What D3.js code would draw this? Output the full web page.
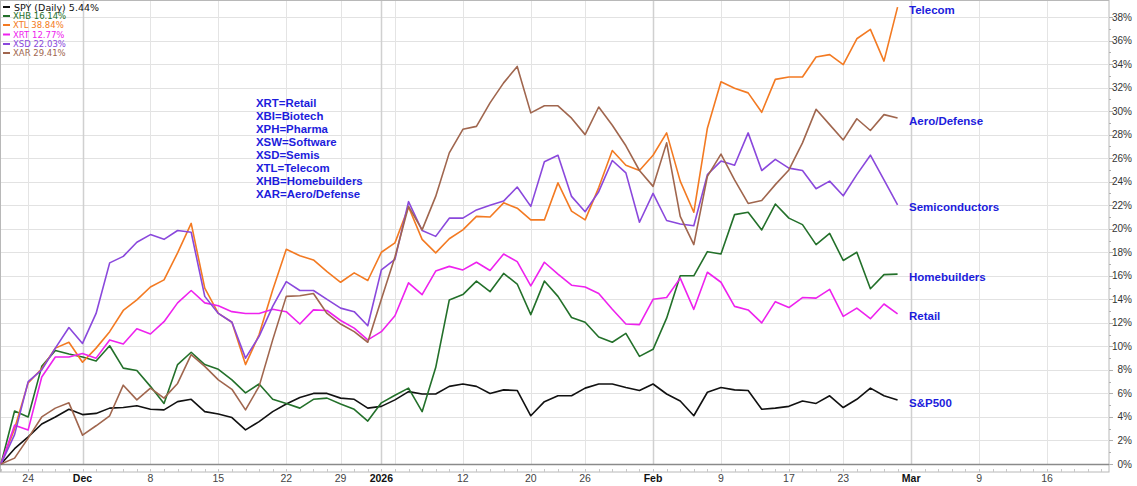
<!DOCTYPE html>
<html>
<head>
<meta charset="utf-8">
<script src="https://cdn.jsdelivr.net/npm/d3@7"></script>
<style>
  body { margin: 0; background: #fff; }
  svg { display: block; }
</style>
</head>
<body>
<svg id="perf_chart"></svg>
<script>
// percent change since 2025-11-20, one value per trading day
const spy = [0, 1.3, 2.3, 3.4, 4.0, 4.65, 4.2, 4.3, 4.75, 4.8, 4.95, 4.65, 4.6, 5.3, 5.5, 4.45, 4.25, 3.95, 2.9, 3.6,
  4.45, 5.1, 5.65, 6.0, 6.0, 5.6, 5.5, 4.75, 4.9, 5.45, 6.15, 5.95, 5.95, 6.6, 6.8, 6.6, 6.0, 6.3, 6.25, 4.1,
  5.3, 5.8, 5.8, 6.45, 6.8, 6.8, 6.5, 6.25, 6.8, 5.95, 5.35, 4.1, 6.1, 6.5, 6.3, 6.25, 4.65, 4.75, 4.9, 5.35,
  5.15, 5.8, 4.8, 5.5, 6.45, 5.8, 5.44]
const xhb = [0, 4.5, 4.0, 8.3, 9.65, 9.35, 9.1, 8.75, 10.05, 8.15, 7.95, 6.6, 5.15, 8.45, 9.5, 8.45, 8.05, 7.15, 6.05, 6.8,
  5.5, 5.15, 4.75, 5.5, 5.6, 5.1, 4.65, 3.65, 5.2, 5.85, 6.45, 4.45, 8.2, 13.95, 14.4, 15.55, 14.65, 16.2, 15.3, 12.7,
  15.55, 14.25, 12.45, 12.05, 10.8, 10.35, 11.1, 9.15, 9.75, 12.4, 16.0, 16.0, 18.05, 17.85, 21.2, 21.4, 19.9, 22.1, 20.9, 20.35,
  18.65, 19.6, 17.3, 18.0, 14.9, 16.1, 16.14]
const xtl = [0, 3.0, 6.9, 8.1, 9.85, 10.35, 8.65, 9.85, 11.25, 13.05, 13.95, 15.05, 15.65, 17.95, 20.45, 14.95, 12.8, 12.05, 8.45, 11.0,
  14.8, 18.25, 17.7, 17.35, 16.35, 15.45, 16.25, 15.6, 18.0, 18.8, 21.85, 19.1, 17.95, 19.15, 19.9, 21.05, 21.0, 22.2, 21.75, 20.75,
  20.75, 23.9, 21.5, 20.75, 23.5, 26.65, 25.4, 24.95, 26.25, 28.15, 24.05, 21.4, 28.55, 32.5, 31.95, 31.55, 29.9, 32.7, 32.9, 32.9,
  34.6, 34.8, 33.95, 36.15, 36.95, 34.25, 38.84]
const xrt = [0, 3.3, 2.9, 7.4, 9.1, 9.1, 9.4, 9.0, 10.55, 10.2, 11.5, 11.05, 12.1, 13.7, 14.75, 13.7, 13.45, 12.95, 12.8, 12.8,
  13.15, 12.95, 11.9, 13.1, 13.05, 12.2, 11.55, 10.55, 11.25, 12.6, 15.4, 14.4, 16.4, 16.8, 16.5, 17.15, 16.45, 17.85, 17.2, 15.15,
  17.15, 16.15, 15.2, 15.05, 14.5, 13.15, 11.9, 11.85, 14.0, 14.15, 15.8, 13.15, 16.3, 15.45, 13.4, 13.1, 12.0, 13.8, 13.3, 14.15,
  14.1, 14.85, 12.55, 13.25, 12.35, 13.6, 12.77]
const xsd = [0, 2.5, 7.0, 8.0, 9.85, 11.6, 10.25, 12.8, 17.1, 17.65, 18.85, 19.5, 19.1, 19.85, 19.7, 14.25, 12.8, 12.05, 9.0, 10.85,
  13.4, 15.5, 14.75, 14.75, 14.0, 13.25, 12.95, 11.75, 16.5, 17.4, 22.3, 19.85, 19.35, 20.9, 20.9, 21.6, 22.0, 22.35, 23.55, 21.9,
  25.7, 26.25, 22.75, 21.45, 23.15, 25.8, 24.75, 20.55, 23.0, 20.7, 20.4, 20.25, 24.6, 25.75, 25.4, 28.15, 24.95, 25.9, 25.15, 24.95,
  23.4, 24.05, 22.8, 24.6, 26.25, 24.15, 22.03]
const xar = [0, 0.5, 2.2, 4.0, 4.75, 5.2, 2.45, 3.25, 4.1, 6.7, 5.45, 6.45, 5.6, 6.85, 9.3, 8.3, 7.15, 6.35, 4.6, 6.6,
  10.55, 14.25, 14.3, 14.5, 12.8, 11.9, 11.25, 10.35, 14.0, 17.6, 21.9, 19.9, 22.75, 26.45, 28.45, 28.7, 30.7, 32.4, 33.8, 29.85,
  30.45, 30.45, 29.4, 28.0, 30.35, 28.8, 27.05, 24.95, 23.6, 27.3, 21.05, 18.65, 24.45, 26.35, 24.15, 22.15, 22.4, 23.75, 25.0, 27.3,
  30.15, 28.85, 27.55, 29.35, 28.35, 29.7, 29.41]

const tickers = ["SPY (Daily)", "XHB", "XTL", "XRT", "XSD", "XAR"]
const seriesColors = ["#111111", "#23702a", "#f37a22", "#ee22ee", "#8a48dc", "#a0664e"]
const sectorNames = ["S&P500", "Homebuilders", "Telecom", "Retail", "Semiconductors", "Aero/Defense"]
const allSeries = [spy, xhb, xtl, xrt, xsd, xar]

const keyLines = ["XRT=Retail", "XBI=Biotech", "XPH=Pharma", "XSW=Software", "XSD=Semis",
  "XTL=Telecom", "XHB=Homebuilders", "XAR=Aero/Defense"]

// calendar
const startDay = "2025-11-20", endDay = "2026-03-20"
const holidays = ["2025-11-27", "2025-12-25", "2026-01-01", "2026-01-19", "2026-02-16"]
const tickDates = ["2025-11-24", "2025-12-01", "2025-12-08", "2025-12-15", "2025-12-22", "2025-12-29", "2026-01-02",
  "2026-01-12", "2026-01-20", "2026-01-26", "2026-02-02", "2026-02-09", "2026-02-17", "2026-02-23",
  "2026-03-02", "2026-03-09", "2026-03-16"]
const tickLabels = ["24", "Dec", "8", "15", "22", "29", "2026", "12", "20", "26", "Feb", "9", "17", "23", "Mar", "9", "16"]
const extraGridDates = ["2026-01-05"]
const monthDates = ["2025-12-01", "2026-01-02", "2026-02-02", "2026-03-02"]
const pctTicks = d3.range(0, 39, 2)

const fmt = d3.utcFormat("%Y-%m-%d")
const parse = d3.utcParse("%Y-%m-%d")
const tradingDays = d3.utcDay.range(parse(startDay), d3.utcDay.offset(parse(endDay), 1))
  .filter(d => d.getUTCDay() !== 0 && d.getUTCDay() !== 6 && !holidays.includes(fmt(d)))
  .map(fmt)
const dayIndex = d => tradingDays.indexOf(d)

const W = 1137, H = 486
const plot = {left: 0, right: 1109, top: 1, bottom: 472, zero: 464}

const svg = d3.select("#perf_chart").attr("width", W).attr("height", H)

const x = d3.scaleLinear()
  .domain([0, dayIndex("2026-03-16")])
  .range([1, 1047])
const y = d3.scaleLinear()
  .domain([0, 38])
  .range([plot.zero, 17])

// frame
svg.append("rect")
  .attr("x", plot.left + 0.5).attr("y", plot.top - 0.5)
  .attr("width", plot.right - plot.left - 0.5).attr("height", plot.bottom - plot.top + 0.5)
  .attr("fill", "none").attr("stroke", "#b8b8b8")

// horizontal grid
svg.append("g").selectAll("line")
  .data(pctTicks.filter(d => d > 0))
  .enter().append("line")
  .attr("x1", plot.left + 1).attr("x2", plot.right)
  .attr("y1", d => Math.round(y(d)) + 0.5).attr("y2", d => Math.round(y(d)) + 0.5)
  .attr("stroke", "#e2e2e2")

// vertical grid
svg.append("g").selectAll("line")
  .data(tickDates.concat(extraGridDates))
  .enter().append("line")
  .attr("x1", d => Math.round(x(dayIndex(d))) + 0.5).attr("x2", d => Math.round(x(dayIndex(d))) + 0.5)
  .attr("y1", plot.top).attr("y2", plot.zero)
  .attr("stroke", d => monthDates.includes(d) ? "#d0d0d0" : "#e4e4e4")
  .attr("stroke-width", d => monthDates.includes(d) ? 1.5 : 1)

// x axis strip
svg.append("line")
  .attr("x1", plot.left).attr("x2", plot.right)
  .attr("y1", plot.zero + 0.5).attr("y2", plot.zero + 0.5)
  .attr("stroke", "#8a8a8a").attr("stroke-width", 1.5)

svg.append("g").selectAll("line")
  .data(d3.range(0, tradingDays.length))
  .enter().append("line")
  .attr("x1", d => Math.round(x(d)) + 0.5).attr("x2", d => Math.round(x(d)) + 0.5)
  .attr("y1", plot.bottom - 3).attr("y2", plot.bottom)
  .attr("stroke", "#c8c8c8")

svg.append("g").selectAll("text")
  .data(tickDates)
  .enter().append("text")
  .attr("x", d => x(dayIndex(d)))
  .attr("y", 482)
  .attr("text-anchor", "middle")
  .attr("font-family", "Liberation Sans, Arial, sans-serif")
  .attr("font-size", "10.5px")
  .attr("font-weight", d => monthDates.includes(d) ? "bold" : "normal")
  .attr("fill", d => monthDates.includes(d) ? "#111" : "#444")
  .text((d, i) => tickLabels[i])

// y axis on the right
svg.append("g").selectAll("line")
  .data(d3.range(0, 39, 1))
  .enter().append("line")
  .attr("x1", plot.right).attr("x2", d => plot.right + (d % 2 ? 2 : 4))
  .attr("y1", d => Math.round(y(d)) + 0.5).attr("y2", d => Math.round(y(d)) + 0.5)
  .attr("stroke", "#b0b0b0")

svg.append("g").selectAll("text")
  .data(pctTicks)
  .enter().append("text")
  .attr("x", 1132)
  .attr("y", d => y(d) + 3.5)
  .attr("text-anchor", "end")
  .attr("font-family", "Liberation Sans, Arial, sans-serif")
  .attr("font-size", "10px")
  .attr("fill", "#333")
  .text(d => d + "%")

// lines
const line = d3.line()
  .x((d, i) => x(i))
  .y(d => y(d))

svg.append("g").selectAll("path")
  .data(allSeries)
  .enter().append("path")
  .attr("d", line)
  .attr("fill", "none")
  .attr("stroke", (d, i) => seriesColors[i])
  .attr("stroke-width", 1.6)
  .attr("stroke-linejoin", "round")

// sector labels at the end of each line
svg.append("g").selectAll("text")
  .data(allSeries)
  .enter().append("text")
  .attr("x", 909)
  .attr("y", d => y(d[d.length - 1]) + 6.5)
  .attr("font-family", "Liberation Sans, Arial, sans-serif")
  .attr("font-size", "11.5px")
  .attr("font-weight", "bold")
  .attr("fill", "#1c1cdc")
  .text((d, i) => sectorNames[i])

// key of ETF symbols
svg.append("g").selectAll("text")
  .data(keyLines)
  .enter().append("text")
  .attr("x", 256)
  .attr("y", (d, i) => 107 + i * 13)
  .attr("font-family", "Liberation Sans, Arial, sans-serif")
  .attr("font-size", "11.4px")
  .attr("font-weight", "bold")
  .attr("fill", "#1c1cdc")
  .text(d => d)

// legend top left
const legend = svg.append("g").selectAll("g")
  .data(allSeries)
  .enter().append("g")
  .attr("transform", (d, i) => "translate(0," + [7, 16, 25, 34.5, 44, 53][i] + ")")

legend.append("line")
  .attr("x1", 3).attr("x2", 10)
  .attr("stroke", (d, i) => seriesColors[i])
  .attr("stroke-width", 2)

legend.append("text")
  .attr("x", (d, i) => i === 0 ? 14 : 13)
  .attr("y", (d, i) => i === 0 ? 3.5 : 3)
  .attr("font-family", "DejaVu Sans, Verdana, sans-serif")
  .attr("font-size", (d, i) => i === 0 ? "9.5px" : "8.5px")
  .attr("fill", (d, i) => i === 0 ? "#111" : seriesColors[i])
  .text((d, i) => tickers[i] + " " + d[d.length - 1].toFixed(2) + "%")
</script>
</body>
</html>
